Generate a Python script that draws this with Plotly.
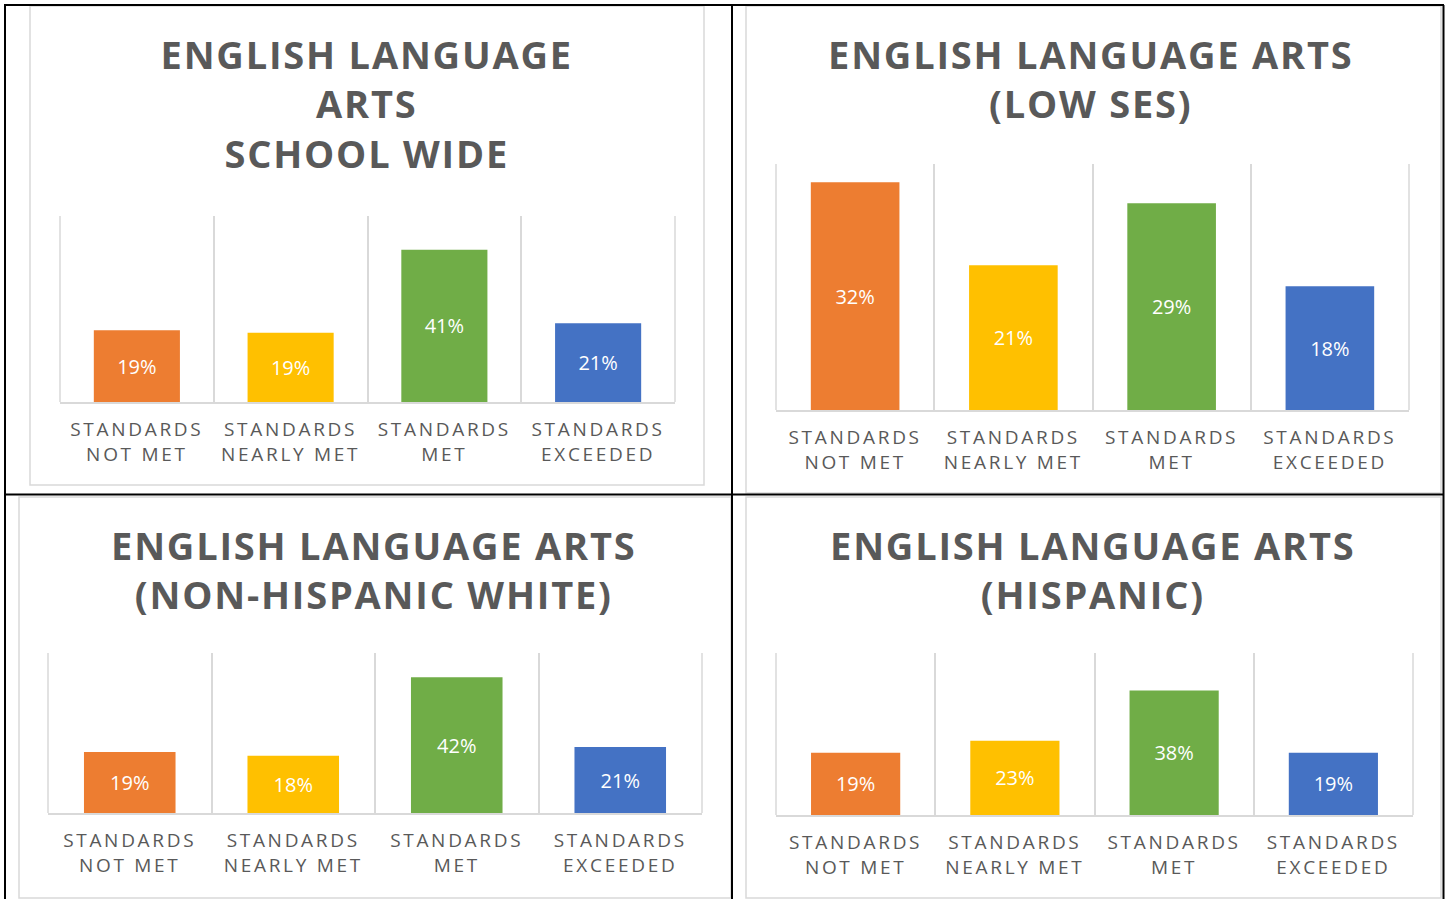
import plotly.graph_objects as go

W, H = 1450, 899

categories = ["STANDARDS<br>NOT MET", "STANDARDS<br>NEARLY MET", "STANDARDS<br>MET", "STANDARDS<br>EXCEEDED"]
bar_colors = ["#ED7D31", "#FFC000", "#70AD47", "#4472C4"]

titles = [
    "ENGLISH LANGUAGE<br>ARTS<br>SCHOOL WIDE",
    "ENGLISH LANGUAGE ARTS<br>(LOW SES)",
    "ENGLISH LANGUAGE ARTS<br>(NON-HISPANIC WHITE)",
    "ENGLISH LANGUAGE ARTS<br>(HISPANIC)",
]
school_wide = [19.3, 18.6, 40.9, 21.2]
low_ses = [32.4, 20.6, 29.4, 17.6]
non_hispanic_white = [19.1, 17.9, 42.4, 20.6]
hispanic = [19.2, 22.9, 38.4, 19.2]
series = [school_wide, low_ses, non_hispanic_white, hispanic]
y_max = [50, 35, 50, 50]

# layout geometry (pixels)
plot_px = [(60, 675, 216, 402), (776, 1409, 164, 410), (48, 702, 653, 813), (776, 1413, 653, 815)]
box_px = [(30, 704, 6, 485), (746, 1441, 6, 493), (19, 731, 497, 898), (746, 1441, 497, 898)]
title_px = [(366, 104), (1091, 79), (374, 569), (1093, 569)]


def px(x):
    return x / W


def py(y):
    return 1 - y / H


GRAY = "#595959"
LINE = "#d9d9d9"
fig = go.Figure()
layout = dict(
    width=W, height=H, margin=dict(l=0, r=0, t=0, b=0),
    paper_bgcolor="white", plot_bgcolor="white", showlegend=False,
    bargap=0.44, font=dict(family="Open Sans", color=GRAY),
    annotations=[], shapes=[],
)

for i in range(4):
    sfx = "" if i == 0 else str(i + 1)
    fig.add_trace(go.Bar(
        x=categories, y=series[i], marker=dict(color=bar_colors, line=dict(width=0)),
        texttemplate="%{y:.0f}%", textposition="inside", insidetextanchor="middle",
        textangle=0, constraintext="none",
        textfont=dict(family="Open Sans", size=20, color="white"),
        hoverinfo="skip", xaxis="x" + sfx, yaxis="y" + sfx,
    ))
    x0, x1, y0, y1 = plot_px[i]
    layout["xaxis" + sfx] = dict(
        domain=[px(x0), px(x1)], anchor="y" + sfx, type="category",
        tickson="boundaries", showgrid=True, gridcolor=LINE, gridwidth=1.5,
        showline=True, linecolor=LINE, linewidth=2, ticks="",
        ticklabelstandoff=9,
        tickfont=dict(family="Open Sans", size=19, color=GRAY), fixedrange=True,
    )
    layout["yaxis" + sfx] = dict(
        domain=[py(y1), py(y0)], anchor="x" + sfx, range=[0, y_max[i]],
        visible=False, showgrid=False, zeroline=False, fixedrange=True,
    )
    # outer vertical gridlines at the plot edges
    for edge in (0, 1):
        layout["shapes"].append(dict(
            type="line", xref="x" + sfx + " domain", yref="y" + sfx + " domain",
            x0=edge, x1=edge, y0=0, y1=1, line=dict(color=LINE, width=1.5), layer="below",
        ))
    tx, ty = title_px[i]
    layout["annotations"].append(dict(
        text=titles[i], x=px(tx), y=py(ty), xref="paper", yref="paper",
        xanchor="center", yanchor="middle", showarrow=False, align="center",
        font=dict(family="Open Sans", size=38, color=GRAY, weight="bold"),
    ))
    bx0, bx1, by0, by1 = box_px[i]
    layout["shapes"].append(dict(
        type="rect", xref="paper", yref="paper", x0=px(bx0), x1=px(bx1), y0=py(by1), y1=py(by0),
        line=dict(color=LINE, width=1.5), layer="below",
    ))

# black table frame
for (xa, ya, xb, yb) in [(5, 4, 5, 899), (4, 5, 1444, 5), (732, 5, 732, 899), (5, 494.5, 1444, 494.5), (1443.5, 5, 1443.5, 899)]:
    layout["shapes"].append(dict(
        type="line", xref="paper", yref="paper", x0=px(xa), x1=px(xb), y0=py(ya), y1=py(yb),
        line=dict(color="black", width=2), layer="above",
    ))

fig.update_layout(**layout)

post = """
document.body.style.margin = '0';
document.body.style.overflow = 'hidden';
var gd = document.getElementById('{plot_id}');
function spacing(){
  gd.querySelectorAll('.annotation-text').forEach(function(t){ t.style.letterSpacing = '1.8px'; });
  gd.querySelectorAll('.xaxislayer-above text').forEach(function(t){ t.style.letterSpacing = '2.7px'; });
}
spacing();
setTimeout(spacing, 50);
setTimeout(spacing, 300);
if (gd.on) { gd.on('plotly_afterplot', spacing); }
"""

fig.write_html("out.html", post_script=post, config={"displayModeBar": False})
